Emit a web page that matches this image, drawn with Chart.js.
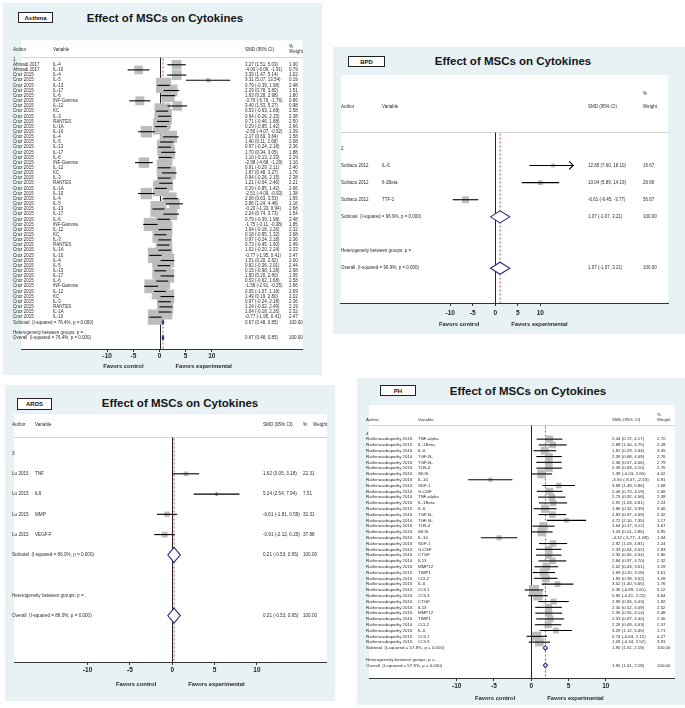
<!DOCTYPE html>
<html><head><meta charset="utf-8">
<script src="https://cdn.jsdelivr.net/npm/chart.js@4.4.1/dist/chart.umd.min.js"></script>
<style>
html,body{margin:0;padding:0;background:#fff;width:685px;height:708px;overflow:hidden;font-family:"Liberation Sans",Arial,sans-serif;}
.panel{position:absolute;background:#e8f2f4;}
.tag{position:absolute;background:#fff;border:1px solid #222;font:bold 6px "Liberation Sans",Arial,sans-serif;color:#111;display:flex;align-items:center;justify-content:center;box-sizing:border-box;}
.title{position:absolute;font:bold 11.5px "Liberation Sans",Arial,sans-serif;color:#151515;transform:translate(-50%,-50%);white-space:nowrap;}
canvas{position:absolute;}
</style></head><body>
<script>
// ---------- shared axis ticks ----------
const tickValues = [-10, -5, 0, 5, 10];
const tickLabels = ['-10', '-5', '0', '5', '10'];

// ---------- Asthma ----------
const asthmaAuthor = ['Ahmadi 2017','Ahmadi 2017'].concat(Array(48).fill('Cruz 2015'));
const asthmaVariable = ['IL-4','IL-10','IL-4','IL-5','IL-13','IL-17','IL-6','INF-Gamma','IL-12','KC','IL-3','RANTES','IL-1A','IL-10',
  'IL-4','IL-5','IL-13','IL-17','IL-6','INF-Gamma','IL-12','KC','IL-3','RANTES','IL-1A','IL-10',
  'IL-4','IL-5','IL-13','IL-17','IL-6','INF-Gamma','IL-12','KC','IL-3','RANTES','IL-1A','IL-10',
  'IL-4','IL-5','IL-13','IL-17','IL-6','INF-Gamma','IL-12','KC','IL-3','RANTES','IL-1A','IL-10'];
const asthmaSMD = [3.27,-4.00,3.30,9.31,0.79,2.29,1.63,-3.76,3.40,0.53,0.94,0.71,0.29,-2.50,2.17,1.40,0.97,1.70,1.10,-2.98,0.91,1.87,0.94,1.21,0.29,-2.51,2.08,2.86,-0.20,2.24,0.79,-1.75,1.04,0.18,0.97,0.73,1.02,-0.77,1.51,0.82,0.15,1.50,0.53,-1.58,0.05,1.49,0.97,1.24,1.04,-0.77];
const asthmaLower = [1.51,-6.09,1.47,5.07,-0.39,0.78,0.28,-5.76,1.53,-0.63,-0.26,-0.46,-0.85,-4.07,0.69,0.11,-0.24,0.34,-0.13,-4.68,-0.29,0.48,-0.26,-0.04,-0.85,-4.09,0.63,1.24,-1.33,0.74,-0.39,-3.11,-0.18,-0.95,-0.24,-0.45,-0.20,-1.95,0.20,-0.36,-0.98,0.20,-0.62,-2.91,-1.07,0.19,-0.24,-0.02,-0.18,-1.95];
const asthmaUpper = [5.03,-1.91,5.14,13.54,1.98,3.80,2.98,-1.76,5.27,1.68,2.15,1.88,1.42,-0.92,3.64,2.68,2.18,3.05,2.33,-1.29,2.11,3.27,2.15,2.46,1.42,-0.93,3.53,4.48,0.94,3.73,1.98,-0.38,2.26,1.32,2.18,1.90,2.24,0.41,2.82,2.01,1.28,2.80,1.68,-0.25,1.18,2.80,2.18,2.49,2.26,0.41];
const asthmaWeight = [1.00,0.79,1.02,0.19,2.48,1.51,1.80,0.86,0.98,2.58,2.38,2.50,2.66,1.39,1.58,2.08,2.36,1.88,2.29,1.16,2.40,1.76,2.38,2.21,2.66,1.38,1.65,1.16,2.68,1.54,2.48,1.85,2.32,2.68,2.36,2.49,2.33,2.47,2.00,2.44,2.68,1.95,2.58,1.96,2.69,2.02,2.36,2.19,2.32,2.47];
const asthmaPooled = [0.67, 0.48, 0.85];
const asthmaI2 = '76.4%';

// ---------- BPD ----------
const bpdAuthor = ['Subiaco 2012','Subiaco 2012','Subiaco 2012'];
const bpdVariable = ['IL-6','Il-1Beta','TTF-1'];
const bpdSMD = [12.85, 10.04, -6.61];
const bpdLower = [7.60, 5.89, -9.45];
const bpdUpper = [18.10, 14.19, -3.77];
const bpdWeight = [16.67, 26.66, 56.67];
const bpdPooled = [1.07, -1.07, 3.21];
const bpdI2 = '96.9%';

// ---------- ARDS ----------
const ardsAuthor = ['Lu 2015','Lu 2015','Lu 2015','Lu 2015'];
const ardsVariable = ['TNF','IL6','MMP','VEGF-F'];
const ardsSMD = [1.62, 5.24, -0.61, -0.91];
const ardsLower = [0.05, 2.54, -1.81, -2.12];
const ardsUpper = [3.18, 7.94, 0.59, 0.29];
const ardsWeight = [22.31, 7.51, 32.31, 37.88];
const ardsPooled = [0.21, -0.53, 0.95];
const ardsI2 = '86.0%';

// ---------- PH ----------
const phAuthor = Array(36).fill('Rathinasabapathy 2016');
const phVariable = ['TNF-alpha','IL-1Beta','IL-6','TGF-B-','TGF-B-','TLR-4','iNOS','IL-10','SDF-1','G-CSF',
  'TNF-alpha','IL-1Beta','IL-6','TGF-B-','TGF-B-','TLR-4','iNOS','IL-10','SDF-1','G-CSF',
  'CTGF','IL13','MMP12','TIMP1','CCL2','IL-6','COL1','COL3','CTGF','IL13','MMP12','TIMP1','CCL2','IL-6','COL1','COL3'];
const phSMD = [2.44,2.88,1.81,2.39,2.36,2.39,1.39,-5.50,3.68,2.46,2.75,2.92,1.86,2.83,4.72,1.64,1.43,-4.32,2.92,2.33,2.35,2.84,2.02,1.69,1.95,3.52,0.36,0.90,2.99,2.30,2.35,2.53,2.26,3.29,0.74,1.09];
const phLower = [0.72,1.00,0.29,0.68,0.67,0.69,-0.03,-8.47,1.49,0.73,0.92,1.03,0.32,0.97,2.10,0.17,0.01,-6.77,1.03,0.64,0.66,0.97,0.43,0.20,0.39,1.40,-0.89,-0.41,0.94,0.52,0.55,0.67,0.49,1.12,-0.63,-0.34];
const phUpper = [4.17,4.75,3.34,4.09,4.06,4.10,2.80,-2.53,5.86,4.19,4.58,4.81,3.39,4.69,7.35,3.12,2.86,-1.88,4.81,4.02,4.04,4.70,3.61,3.18,3.52,5.65,1.61,2.22,5.03,4.09,4.14,4.40,4.03,5.45,2.12,2.52];
const phWeight = [2.70,2.28,3.45,2.76,2.79,2.76,4.02,0.91,1.68,2.68,2.39,2.24,3.40,2.32,1.17,3.67,3.95,1.34,2.24,2.83,2.80,2.32,3.19,3.61,3.28,1.76,5.12,4.64,1.92,2.52,2.48,2.30,2.57,1.71,4.27,3.91];
const phPooled = [1.90, 1.61, 2.18];
const phI2 = '57.8%';

// ---------- layout of the four panels (page pixels) ----------
const panels = [
  { name:'Asthma', group:'1', author:asthmaAuthor, variable:asthmaVariable, smd:asthmaSMD, lower:asthmaLower, upper:asthmaUpper, weight:asthmaWeight, pooled:asthmaPooled, i2:asthmaI2,
    panel:{x:3,y:3,w:319,h:372}, tag:{x:18,y:12,w:35,h:11}, title:{cx:165,cy:18},
    plot:{left:10,top:29,width:304,bottom:349}, axisH:30, rowY0:49, step:5.34, zeroX:159.3, ppu:5.65,
    col:{author:13,variable:53,smd:245,pct:289,whdr:289,weight:289}, hdrY:39, pctY:35.5, wY:41, sepY:46,
    fs:4.5, maxBox:16, dot:1.7, diaH:4, tickPad:0, favY:17, clipHi:26 },
  { name:'BPD', group:'2', author:bpdAuthor, variable:bpdVariable, smd:bpdSMD, lower:bpdLower, upper:bpdUpper, weight:bpdWeight, pooled:bpdPooled, i2:bpdI2,
    panel:{x:333,y:47,w:352,h:287}, tag:{x:348,y:56,w:37,h:11}, title:{cx:513,cy:61},
    plot:{left:336,top:70,width:337,bottom:303}, axisH:30, rowY0:145, step:17.5, zeroX:495, ppu:4.64,
    col:{author:341,variable:382,smd:588,pct:643,whdr:643,weight:643}, hdrY:103, pctY:89, wY:103, sepY:128,
    fs:4.5, maxBox:7, dot:1.8, diaH:12, tickPad:3, favY:21, clipHi:17.3 },
  { name:'ARDS', group:'3', author:ardsAuthor, variable:ardsVariable, smd:ardsSMD, lower:ardsLower, upper:ardsUpper, weight:ardsWeight, pooled:ardsPooled, i2:ardsI2,
    panel:{x:5,y:385,w:330,h:316}, tag:{x:17,y:398,w:35,h:12}, title:{cx:180,cy:403},
    plot:{left:10,top:410,width:321,bottom:662}, axisH:32, rowY0:450, step:20.6, zeroX:172.3, ppu:8.7,
    col:{author:12,variable:35,smd:263,pct:303,whdr:313,weight:303}, hdrY:421, pctY:421, wY:421, sepY:433,
    fs:4.6, maxBox:6, dot:1.9, diaH:15, tickPad:1, favY:22, clipHi:18 },
  { name:'PH', group:'4', author:phAuthor, variable:phVariable, smd:phSMD, lower:phLower, upper:phUpper, weight:phWeight, pooled:phPooled, i2:phI2,
    panel:{x:357,y:378,w:328,h:327}, tag:{x:380,y:385,w:36,h:11}, title:{cx:528,cy:391},
    plot:{left:362,top:398,width:320,bottom:678}, axisH:27, rowY0:427, step:5.95, zeroX:531.7, ppu:7.8,
    col:{author:366,variable:418,smd:612,pct:657,whdr:657,weight:657}, hdrY:413, pctY:408, wY:413, sepY:418,
    fs:4.4, maxBox:10, dot:1.7, diaH:4.5, tickPad:1, favY:20, clipHi:19 }
];

const f2 = v => v.toFixed(2);
const ciText = (m, l, h) => `${f2(m)} (${f2(l)}, ${f2(h)})`;
const FONT = '"Liberation Sans", Arial, sans-serif';
const NAVY = '#27307c';

function forestPlugin(c) {
  const L = c.plot.left;
  const n = c.smd.length;
  const rowOf = yAbs => (yAbs - c.rowY0) / c.step;
  return {
    id: 'forest' + c.name,
    beforeDraw(chart) {
      const a = chart.chartArea, ctx = chart.ctx;
      ctx.save(); ctx.fillStyle = '#fff';
      ctx.fillRect(a.left, a.top, a.right - a.left, a.bottom - a.top);
      ctx.restore();
    },
    beforeDatasetsDraw(chart) {
      const {ctx, chartArea: a, scales: {x, y}} = chart;
      ctx.save();
      const ys = Math.round(y.getPixelForValue(rowOf(c.sepY))) + 0.5;
      ctx.strokeStyle = '#d4d4d4'; ctx.lineWidth = 1;
      ctx.beginPath(); ctx.moveTo(a.left, ys); ctx.lineTo(a.right, ys); ctx.stroke();
      const x0 = Math.round(x.getPixelForValue(0)) + 0.5;
      ctx.strokeStyle = '#222'; ctx.lineWidth = 1;
      ctx.beginPath(); ctx.moveTo(x0, ys); ctx.lineTo(x0, a.bottom); ctx.stroke();
      const xp = x.getPixelForValue(c.pooled[0]);
      ctx.strokeStyle = '#c0504d'; ctx.setLineDash([2, 2]);
      ctx.beginPath(); ctx.moveTo(xp, ys + 1); ctx.lineTo(xp, a.bottom); ctx.stroke();
      ctx.restore();
    },
    afterDatasetDraw(chart, args) {
      if (args.index !== 0) return;
      const {ctx, scales: {x, y}} = chart;
      ctx.save(); ctx.strokeStyle = '#000'; ctx.lineWidth = 1.1;
      for (let i = 0; i < n; i++) {
        const yy = y.getPixelForValue(i + 1);
        const hiClipped = c.upper[i] > c.clipHi;
        const xl = x.getPixelForValue(c.lower[i]);
        const xh = x.getPixelForValue(Math.min(c.upper[i], c.clipHi));
        ctx.beginPath(); ctx.moveTo(xl, yy); ctx.lineTo(xh, yy); ctx.stroke();
        if (hiClipped) {
          ctx.beginPath(); ctx.moveTo(xh - 4, yy - 4); ctx.lineTo(xh, yy); ctx.lineTo(xh - 4, yy + 4); ctx.stroke();
        }
      }
      ctx.restore();
    },
    afterDatasetsDraw(chart) {
      const {ctx, scales: {x, y}} = chart;
      ctx.save();
      [n + 1, n + 4].forEach(r => {
        const yy = y.getPixelForValue(r), h = c.diaH / 2;
        ctx.beginPath();
        ctx.moveTo(x.getPixelForValue(c.pooled[1]), yy);
        ctx.lineTo(x.getPixelForValue(c.pooled[0]), yy - h);
        ctx.lineTo(x.getPixelForValue(c.pooled[2]), yy);
        ctx.lineTo(x.getPixelForValue(c.pooled[0]), yy + h);
        ctx.closePath();
        ctx.fillStyle = '#fff'; ctx.fill();
        ctx.strokeStyle = NAVY; ctx.lineWidth = 1.1; ctx.stroke();
      });
      ctx.fillStyle = '#2b2b2b'; ctx.textBaseline = 'middle'; ctx.textAlign = 'left';
      ctx.font = `${c.fs}px ${FONT}`;
      const px = v => v - L;
      const hy = y.getPixelForValue(rowOf(c.hdrY));
      ctx.fillText('Author', px(c.col.author), hy);
      ctx.fillText('Variable', px(c.col.variable), hy);
      ctx.fillText('SMD (95% CI)', px(c.col.smd), hy);
      ctx.fillText('%', px(c.col.pct), y.getPixelForValue(rowOf(c.pctY)));
      ctx.fillText('Weight', px(c.col.whdr), y.getPixelForValue(rowOf(c.wY)));
      ctx.fillText(c.group, px(c.col.author), y.getPixelForValue(0));
      for (let i = 0; i < n; i++) {
        const yy = y.getPixelForValue(i + 1);
        ctx.fillText(c.author[i], px(c.col.author), yy);
        ctx.fillText(c.variable[i], px(c.col.variable), yy);
        ctx.fillText(ciText(c.smd[i], c.lower[i], c.upper[i]), px(c.col.smd), yy);
        ctx.fillText(f2(c.weight[i]), px(c.col.weight), yy);
      }
      const pooledTxt = ciText(c.pooled[0], c.pooled[1], c.pooled[2]);
      let yy = y.getPixelForValue(n + 1);
      ctx.fillText(`Subtotal  (I-squared = ${c.i2}, p = 0.000)`, px(c.col.author), yy);
      ctx.fillText(pooledTxt, px(c.col.smd), yy);
      ctx.fillText('100.00', px(c.col.weight), yy);
      ctx.fillText('Heterogeneity between groups: p = .', px(c.col.author), y.getPixelForValue(n + 3));
      yy = y.getPixelForValue(n + 4);
      ctx.fillText(`Overall  (I-squared = ${c.i2}, p = 0.000)`, px(c.col.author), yy);
      ctx.fillText(pooledTxt, px(c.col.smd), yy);
      ctx.fillText('100.00', px(c.col.weight), yy);
      ctx.restore();
    },
    afterDraw(chart) {
      const {ctx, chartArea: a, scales: {x}} = chart;
      ctx.save();
      ctx.font = `bold 5.8px ${FONT}`; ctx.fillStyle = '#1e1e1e'; ctx.textBaseline = 'middle';
      const x0 = x.getPixelForValue(0);
      ctx.textAlign = 'right'; ctx.fillText('Favors control', x0 - 16, a.bottom + c.favY);
      ctx.textAlign = 'left'; ctx.fillText('Favors experimental', x0 + 16, a.bottom + c.favY);
      ctx.restore();
    }
  };
}

function buildPanel(c) {
  const p = document.createElement('div');
  p.className = 'panel';
  p.style.cssText = `left:${c.panel.x}px;top:${c.panel.y}px;width:${c.panel.w}px;height:${c.panel.h}px`;
  document.body.appendChild(p);
  const tg = document.createElement('div');
  tg.className = 'tag'; tg.textContent = c.name;
  tg.style.cssText = `left:${c.tag.x}px;top:${c.tag.y}px;width:${c.tag.w}px;height:${c.tag.h}px`;
  document.body.appendChild(tg);
  const tt = document.createElement('div');
  tt.className = 'title'; tt.textContent = 'Effect of MSCs on Cytokines';
  tt.style.left = c.title.cx + 'px'; tt.style.top = c.title.cy + 'px';
  document.body.appendChild(tt);

  const W = c.plot.width, H = (c.plot.bottom - c.plot.top) + c.axisH;
  const cv = document.createElement('canvas');
  cv.width = W; cv.height = H;
  cv.style.cssText = `left:${c.plot.left}px;top:${c.plot.top}px;width:${W}px;height:${H}px`;
  document.body.appendChild(cv);

  const pts = c.smd.map((v, i) => ({x: v, y: i + 1}));
  const maxW = Math.max(...c.weight);
  const boxR = c.weight.map(w => c.maxBox * Math.sqrt(w / maxW) * Math.SQRT1_2);
  const xmin = (c.plot.left - c.zeroX) / c.ppu;
  const xmax = (c.plot.left + c.plot.width - c.zeroX) / c.ppu;
  const ymin = (c.plot.top - c.rowY0) / c.step;
  const ymax = (c.plot.bottom - c.rowY0) / c.step;

  new Chart(cv, {
    type: 'scatter',
    data: { datasets: [
      { data: pts, pointStyle: 'rect', pointRadius: boxR, backgroundColor: '#bdbdbd', borderWidth: 0, clip: false },
      { data: pts.map(p => ({...p})), pointStyle: 'rectRot', pointRadius: c.dot, backgroundColor: '#000', borderWidth: 0, clip: false }
    ]},
    options: {
      responsive: false, animation: false, events: [],
      layout: { padding: 0 },
      plugins: { legend: { display: false }, tooltip: { enabled: false } },
      scales: {
        x: { type: 'linear', min: xmin, max: xmax,
             afterBuildTicks: s => { s.ticks = tickValues.map(v => ({ value: v })); },
             afterFit: s => { s.height = c.axisH; },
             ticks: { callback: v => { const k = tickValues.indexOf(v); return k >= 0 ? tickLabels[k] : ''; },
                      font: { size: 6.5, weight: 'bold', family: 'Liberation Sans' }, color: '#222',
                      padding: c.tickPad, maxRotation: 0, autoSkip: false },
             grid: { display: true, drawOnChartArea: false, drawTicks: true, tickLength: 3, color: '#333', lineWidth: 1 },
             border: { display: true, color: '#333', width: 1 } },
        y: { type: 'linear', reverse: true, min: ymin, max: ymax, display: false }
      }
    },
    plugins: [forestPlugin(c)]
  });
}

panels.forEach(buildPanel);
</script>
</body></html>
